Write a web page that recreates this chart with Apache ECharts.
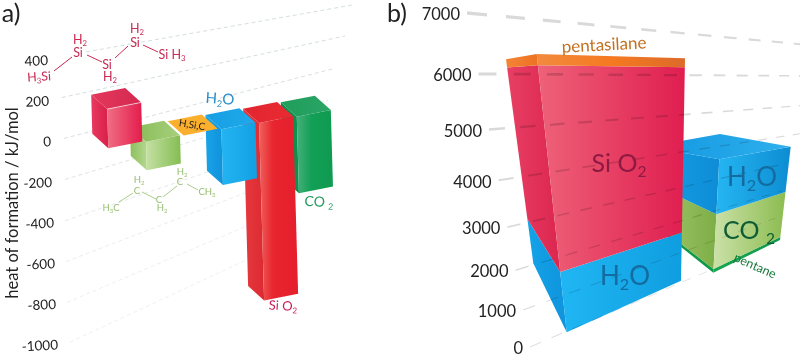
<!DOCTYPE html>
<html><head><meta charset="utf-8">
<style>html,body{margin:0;padding:0;background:#fff}#c{width:800px;height:359px}</style>
<script src="https://cdn.jsdelivr.net/npm/echarts@6/dist/echarts.min.js"></script>
</head><body><div id="c"></div>
<script>
// ---- data ----
const formationNames = ['pentasilane','pentane','H4SiC','H2O','SiO2','CO2'];
const formationValues = [200,-146,0,-286,-910,-393];
const formationTicks = [400,200,0,-200,-400,-600,-800,-1000];
const combustionTicks = [0,1000,2000,3000,4000,5000,6000,7000];
const pentasilaneParts = ['H2O','SiO2','pentasilane'];
const pentasilaneValues = [1716,4550,200];
const pentaneParts = ['pentane','CO2','H2O'];
const pentaneValues = [146,1965,1716];

// ---- styling ----
const FONT = 'Lato,"Open Sans","Noto Sans",sans-serif';
const grad = (...c)=>({type:'linear',x:0,y:0,x2:1,y2:0,colorStops:c.map((col,i)=>Array.isArray(col)?{offset:col[0],color:col[1]}:{offset:i/(c.length-1),color:col})});
const barStyle = {
  pentasilane:{top:grad('#e5375c','#d32a50'),left:grad('#e83a60','#d81f4a'),right:grad('#f06e84','#e31c4c')},
  pentane:{top:grad('#86bb55','#a7cf7c'),left:grad('#8cc05c','#b4d78f'),right:grad('#c6e0a4','#84bd52')},
  H4SiC:{top:'#fbb02d'},
  H2O:{top:grad('#16a0e4','#1fa9ea'),left:grad('#1aa3e8','#0f92da'),right:grad('#24b4f2','#12a0e2')},
  SiO2:{top:grad('#e0262f','#ea2a33'),left:grad('#e53a3e','#dd2a32'),right:grad([0,'#f0615c'],[0.35,'#e8262f'],[1,'#e51e2c'])},
  CO2:{top:grad('#1f9d5a','#2aa566'),left:grad('#0d8a4c','#0f8f50'),right:grad([0,'#45b07a'],[0.4,'#12a056'],[1,'#0f9a50'])}
};
const stackStyle = {
  'pentasilane|pentasilane':{left:grad('#f58438','#ec7220'),right:grad('#f28a3e','#f57a20','#dc6a2a')},
  'pentasilane|SiO2':{left:grad('#e83f63','#dc2650'),right:grad('#ee6278','#e01e50')},
  'pentasilane|H2O':{left:grad('#14a3e8','#0f94dc'),right:grad('#20b6f3','#0f9ee0')},
  'pentane|pentane':{left:grad('#0e9a4b','#0f9a4b'),right:grad('#18a651','#0f9a4b')},
  'pentane|CO2':{left:grad('#a9cb72','#7dae46'),right:grad('#cbe1a8','#8cbc50')},
  'pentane|H2O':{left:grad('#16a0e6','#0e8dd6'),right:grad('#25b5f2','#0d8dd2'),top:grad('#1297df','#2fb0ee')}
};

// ---- panel a projection: slot / across / depth / kJ -> axis coordinates ----
const A = {top:60,bottom:345};
const pxPerKJ = (A.bottom-A.top)/1400;
function projA(slot,s,d,v){
  const x = 108.3+37.7*slot+34*s-16*d-v*0.0055;
  const dy = 6.7-6.3*slot-6.7*s-14.3*d;
  return [x, v*0.958-dy/pxPerKJ];
}
function poly(points,fill,extra){
  return Object.assign({type:'polygon',shape:{points},style:{fill,stroke:null},silent:true},extra||{});
}
function renderFormation(params,api){
  const slot = api.value(0), v = api.value(1);
  const st = barStyle[formationNames[slot]];
  const hi = Math.max(0,v), lo = Math.min(0,v);
  const P = (s,d,val)=>api.coord(projA(slot,s,d,val));
  const ch = [];
  if (v!==0){
    ch.push(poly([P(0,1,hi),P(0,0,hi),P(0,0,lo),P(0,1,lo)],st.left));
    ch.push(poly([P(0,0,hi),P(1,0,hi),P(1,0,lo),P(0,0,lo)],st.right));
  }
  ch.push(poly([P(0,1,hi),P(1,1,hi),P(1,0,hi),P(0,0,hi)],st.top));
  if (v>0){
    const a=P(0,0,hi), b=P(1,0,hi);
    ch.push({type:'line',silent:true,shape:{x1:a[0],y1:a[1],x2:b[0],y2:b[1]},style:{stroke:'rgba(255,255,255,0.6)',lineWidth:1}});
  }
  return {type:'group',children:ch};
}
// gridlines of panel a run to a common vanishing point
const VPA = [1060,-120];
function renderGridA(params,api){
  const v = api.value(0), i = params.dataIndex;
  const ends = [355,345,335,328,322,316,268,268];
  const starts = [86,62,64,65,65,66,67,70];
  const cols = ['#d5dede','#d5dede','#d8dfdf','#dfe4e4','#e6e9e9','#ebeded','#eeefef','#f0f0f0'];
  const y62 = 138.5-0.207*v;
  const yAt = x=>VPA[1]+(y62-VPA[1])*(VPA[0]-x)/(VPA[0]-62);
  const toAxis = y=>(141-y)/pxPerKJ;
  const a = api.coord([starts[i],toAxis(yAt(starts[i]))]);
  const b = api.coord([ends[i],toAxis(yAt(ends[i]))]);
  return {type:'line',shape:{x1:a[0],y1:a[1],x2:b[0],y2:b[1]},style:{stroke:cols[i],lineWidth:1,lineDash:[4,3]},silent:true};
}

// ---- panel b: perspective warp of the energy axis ----
const B = {top:13,bottom:347,max:7000,k:-0.253};
const warp = v=>{const t=v/B.max; return t*(1+B.k)/(1+B.k*t);};
const pxToAxis = y=>(B.bottom-y)/(B.bottom-B.top)*B.max;
const axisX = v=>530-63*warp(v);
const VPB = [1161,78];
const sum = a=>a.reduce((p,c)=>p+c,0);
const stacks = {
  pentane:{parts:pentaneParts,values:pentaneValues,
    L:[[645,218.3],[648.7,146.7]],F:[[713.3,272.7],[719.3,159.3]],R:[[780,240],[790.7,146.7]],back:[720,134],hasTop:true},
  pentasilane:{parts:pentasilaneParts,values:pentasilaneValues,
    L:[[533.3,263.3],[506,59.3]],F:[[566.7,332.3],[536.7,54]],R:[[681,280.7],[685,58.3]]}
};
function stackItems(name){
  const S = stacks[name]; let acc = 0;
  return S.values.map((val,i)=>{const o=[name==='pentane'?0:1,i,acc,acc+val]; acc+=val; return o;});
}
function renderStack(params,api){
  const name = api.value(0)===0?'pentane':'pentasilane';
  const S = stacks[name], part = S.parts[api.value(1)];
  const lo = api.value(2), hi = api.value(3), total = sum(S.values);
  const st = stackStyle[name+'|'+part];
  const on = (edge,v)=>{const f=warp(v)/warp(total);
    return api.coord([edge[0][0]+(edge[1][0]-edge[0][0])*f, pxToAxis(edge[0][1]+(edge[1][1]-edge[0][1])*f)]);};
  const ch = [
    poly([on(S.L,hi),on(S.F,hi),on(S.F,lo),on(S.L,lo)],st.left),
    poly([on(S.F,hi),on(S.R,hi),on(S.R,lo),on(S.F,lo)],st.right)
  ];
  if (S.hasTop && hi===total){
    ch.push(poly([on(S.L,hi),api.coord([S.back[0],pxToAxis(S.back[1])]),on(S.R,hi),on(S.F,hi)],st.top));
  }
  return {type:'group',children:ch};
}
function renderGridB(params,api){
  const v = api.value(0), i = params.dataIndex;
  const L0 = [11,12,13,13,15,16,18,20][i];
  const W0 = [1,1.2,1.5,1.8,2,2.5,3,3.6][i];
  const end = [712,775,782,786,800,800,800,800][i];
  const x0 = axisX(v), y0 = B.bottom-(B.bottom-B.top)*warp(v);
  const ch = [];
  let x = x0;
  while (x<end){
    const s = (VPB[0]-x)/(VPB[0]-x0);
    const len = L0*s, x2 = Math.min(end,x+len);
    const yAt = q=>VPB[1]+(y0-VPB[1])*(VPB[0]-q)/(VPB[0]-x0);
    const w1 = W0*s/2, w2 = W0*(VPB[0]-x2)/(VPB[0]-x0)/2;
    const pts = [[x,yAt(x)-w1],[x2,yAt(x2)-w2],[x2,yAt(x2)+w2],[x,yAt(x)+w1]]
      .map(p=>api.coord([p[0],pxToAxis(p[1])]));
    ch.push(poly(pts,'rgba(0,0,0,0.15)'));
    x += len*1.95;
  }
  const lp = api.coord([x0-7,pxToAxis(y0+2)]);
  ch.push({type:'text',x:lp[0],y:lp[1],silent:true,style:{text:String(v),font:'16.5px '+FONT,fill:'#222',align:'right',verticalAlign:'middle'}});
  return {type:'group',children:ch};
}

// ---- annotations ----
function T(x,y,str,size,fill,rotDeg){
  const parts = str.split(/_(\d)/);
  let text = '';
  parts.forEach((p,i)=>{ if(p!=='') text += i%2? '{s|'+p+'}' : '{n|'+p+'}'; });
  return {type:'text',x,y,z:100,silent:true,rotation:(rotDeg||0)*Math.PI/180,
    style:{text,align:'center',verticalAlign:'middle',
      rich:{n:{fontSize:size,fontFamily:FONT,fill,lineHeight:size*1.25},
            s:{fontSize:size*0.62,fontFamily:FONT,fill,lineHeight:size*1.25,verticalAlign:'bottom',padding:[size*0.18,0,0,0]}}}};
}
const bond = (x1,y1,x2,y2,stroke,w)=>({type:'line',z:100,silent:true,shape:{x1,y1,x2,y2},style:{stroke,lineWidth:w}});
const RED='#c92a54', GRN='#95be6e';
const graphics = [
  T(11,14,'a)',25,'#222'), T(397,14,'b)',25,'#222'),
  T(13,203,'heat of formation / kJ/mol',16.5,'#222',90),
  // pentasilane formula
  T(80,40,'H_2',12.5,RED),T(78,53,'Si',12.5,RED),T(39,77,'H_3Si',12.5,RED,4),T(107,65,'Si',12.5,RED),T(110,77,'H_2',12.5,RED),
  T(135,43,'Si',12.5,RED),T(137,29,'H_2',12.5,RED),T(172,55,'Si H_3',12.5,RED),
  bond(54,71,72,57,RED,1),bond(87,55,102,62,RED,1),bond(115,58,128,46,RED,1),bond(143,45,158,52,RED,1),
  // pentane formula
  T(139,180,'H_2',9.5,GRN),T(137,191,'C',9.5,GRN),T(111,208,'H_3C',9.5,GRN),T(159,200,'C',9.5,GRN),T(162,208,'H_2',9.5,GRN),
  T(180,182,'C',9.5,GRN),T(182,172,'H_2',9.5,GRN),T(207,192,'CH_3',9.5,GRN),
  bond(119,202,133,193,GRN,.8),bond(142,192,156,199,GRN,.8),bond(163,197,177,186,GRN,.8),bond(187,184,198,190,GRN,.8),
  // panel a labels
  T(220,99,'H_2O',15,'#2b8fc8',-4),T(319,202,'CO _2',14,'#1f9a5c',-3),T(283,306,'Si O_2',13,'#c81c55',-3),
  T(192,125,'H,Si,C',10,'#1a1a1a',-9),
  // panel b labels
  T(604,45,'pentasilane',17,'#c4701f',3),
  T(619,164,'Si O_2',25,'#8e1a42'),
  T(625,277,'H_2O',26,'#136b9f'),T(752,178,'H_2O',26,'#136b9f'),T(749,231,'CO _2',25,'#0d5c33'),
  T(755,266,'pentane',12.5,'#167a3a',-24)
];

const padByTick = {400:10,200:9,0:7,'-200':6,'-400':4,'-600':3,'-800':2,'-1000':0};
const rich = {};
formationTicks.forEach((t,i)=>{ rich['p'+i]={fontSize:13.5,fontFamily:FONT,color:'#222',padding:[0,padByTick[t],0,0]}; });

const chart = echarts.init(document.getElementById('c'),null,{renderer:'canvas'});
chart.setOption({
  animation:false,
  backgroundColor:'#fff',
  grid:[
    {left:0,width:400,top:A.top,height:A.bottom-A.top},
    {left:400,width:400,top:B.top,height:B.bottom-B.top}
  ],
  xAxis:[
    {gridIndex:0,type:'value',min:0,max:400,show:false},
    {gridIndex:1,type:'value',min:400,max:800,show:false}
  ],
  yAxis:[
    {gridIndex:0,type:'value',min:-1000,max:400,interval:200,position:'left',offset:-60,
     axisLine:{show:false},axisTick:{show:false},splitLine:{show:false},
     axisLabel:{margin:2,rotate:3,formatter:v=>'{p'+formationTicks.indexOf(v)+'|'+v+'}',rich}},
    {gridIndex:1,type:'value',min:0,max:B.max,interval:1000,show:false}
  ],
  graphic:{elements:graphics},
  series:[
    {type:'custom',name:'gridA',xAxisIndex:0,yAxisIndex:0,z:1,renderItem:renderGridA,data:formationTicks.map(t=>[t]),encode:{y:0},silent:true},
    {type:'custom',name:'formation',xAxisIndex:0,yAxisIndex:0,z:2,renderItem:renderFormation,
     data:formationValues.map((v,i)=>[i,v]).reverse(),encode:{x:0,y:1},silent:true},
    {type:'custom',name:'stacks',xAxisIndex:1,yAxisIndex:1,z:2,renderItem:renderStack,
     data:stackItems('pentane').concat(stackItems('pentasilane')),silent:true},
    {type:'custom',name:'gridB',xAxisIndex:1,yAxisIndex:1,z:3,renderItem:renderGridB,data:combustionTicks.map(t=>[t]),encode:{y:0},silent:true}
  ]
});
</script></body></html>
